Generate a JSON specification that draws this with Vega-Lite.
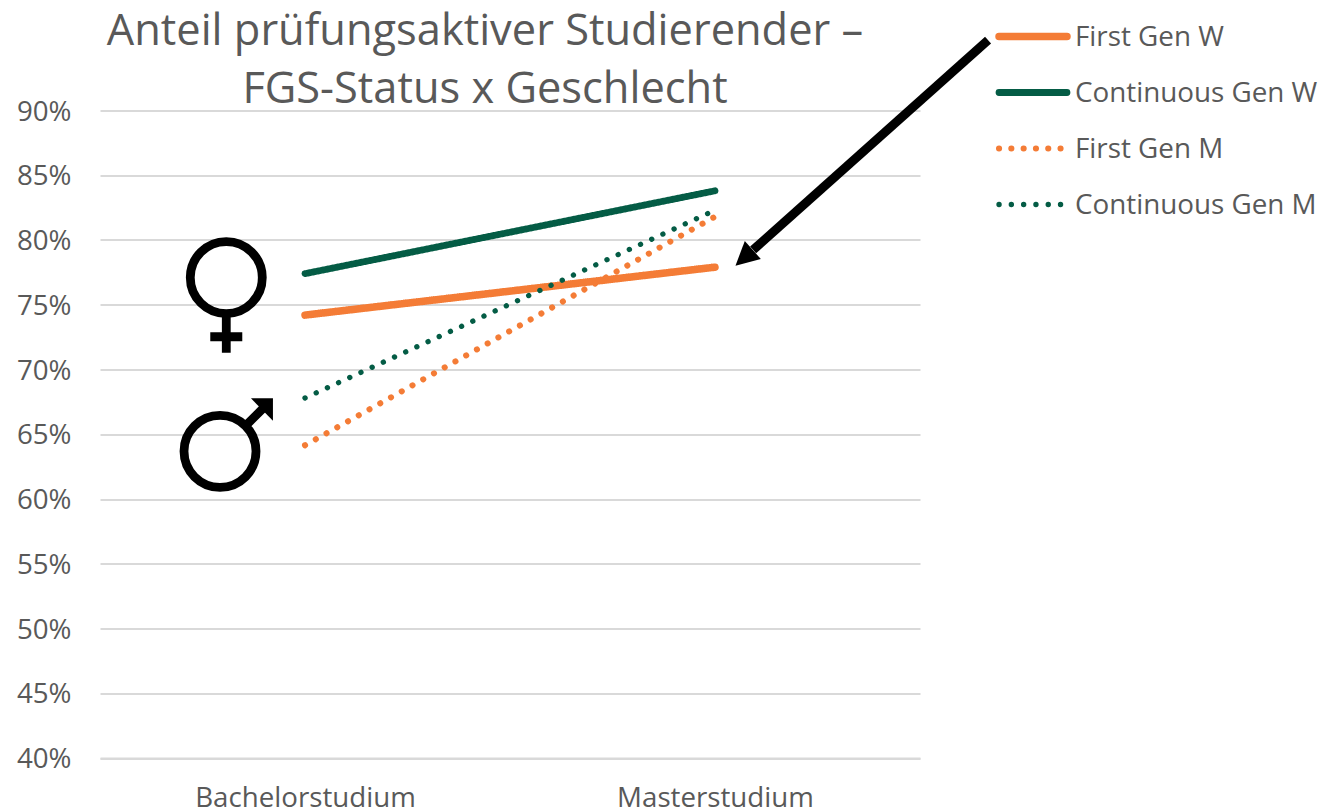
{
"$schema":"https://vega.github.io/schema/vega-lite/v6.json",
"width":820,"height":647.5,
"autosize":{"type":"none"},
"padding":{"left":100,"top":110.5,"right":402,"bottom":53},
"background":"white",
"title":{"text":["Anteil prüfungsaktiver Studierender –","FGS-Status x Geschlecht"],"font":"Open Sans","fontSize":43.4,"fontWeight":"normal","color":"#595959","anchor":"middle","frame":"group","dx":-25,"offset":-103.5,"lineHeight":58},
"config":{"view":{"stroke":null},"font":"Open Sans"},
"datasets":{
"lines":[
{"stufe":0.5,"series":"First Gen W","anteil":0.742},
{"stufe":1.5,"series":"First Gen W","anteil":0.779},
{"stufe":0.5,"series":"Continuous Gen W","anteil":0.774},
{"stufe":1.5,"series":"Continuous Gen W","anteil":0.838},
{"stufe":0.5,"series":"First Gen M","anteil":0.6415},
{"stufe":1.5,"series":"First Gen M","anteil":0.818},
{"stufe":0.5,"series":"Continuous Gen M","anteil":0.678},
{"stufe":1.5,"series":"Continuous Gen M","anteil":0.823}
],
"notes":[
{"name":"arrow","x":2.166,"y":0.9544,"x2":1.593,"y2":0.7923},
{"name":"arrowhead","x":1.58,"y":0.79},
{"name":"female","x":0.308,"y":0.7575},
{"name":"male","x":0.2927,"y":0.6368},
{"name":"malehead","x":0.395,"y":0.6691}
]
},
"layer":[
{"data":{"name":"lines"},
"mark":{"type":"line","strokeCap":"round"},
"encoding":{
"x":{"field":"stufe","type":"quantitative","scale":{"domain":[0,2]},"axis":{"values":[0.5,1.5],"title":null,"grid":false,"ticks":false,"domainColor":"#d9d9d9","domainWidth":2.2,"labelFont":"Open Sans","labelFontSize":27.7,"labelLimit":400,"labelColor":"#595959","labelPadding":26,"labelExpr":"datum.value==0.5?'Bachelorstudium':'Masterstudium'"}},
"y":{"field":"anteil","type":"quantitative","scale":{"domain":[0.4,0.9]},"axis":{"values":[0.4,0.45,0.5,0.55,0.6,0.65,0.7,0.75,0.8,0.85,0.9],"format":".0%","title":null,"domain":false,"ticks":false,"gridColor":"#d9d9d9","gridWidth":2.2,"labelFont":"Open Sans","labelFontSize":27.7,"labelColor":"#595959","labelPadding":29,"labelOffset":1.5}},
"color":{"field":"series","type":"nominal","scale":{"domain":["First Gen W","Continuous Gen W","First Gen M","Continuous Gen M"],"range":["#f47c36","#045c45","#f47c36","#045c45"]},
"legend":{"title":null,"orient":"none","legendX":895,"legendY":-102,"symbolType":"stroke","symbolSize":4624,"clipHeight":56,"rowPadding":0,"labelFont":"Open Sans","labelFontSize":27.8,"labelColor":"#595959","labelOffset":4,"labelLimit":400,"symbolOffset":0,"encoding":{"symbols":{"strokeCap":{"value":"round"}},"labels":{"dy":{"value":1}}}}},
"strokeDash":{"field":"series","type":"nominal","scale":{"domain":["First Gen W","Continuous Gen W","First Gen M","Continuous Gen M"],"range":[[1,0],[1,0],[0.1,12.2],[0.1,12.2]]}},
"strokeWidth":{"field":"series","type":"nominal","scale":{"domain":["First Gen W","Continuous Gen W","First Gen M","Continuous Gen M"],"range":[7.5,5.3,5.5,5.5]}}
}},
{"data":{"name":"notes"},"transform":[{"filter":"datum.name=='arrow'"}],
"mark":{"type":"rule","color":"black","strokeWidth":9},
"encoding":{"x":{"field":"x","type":"quantitative"},"y":{"field":"y","type":"quantitative"},"x2":{"field":"x2"},"y2":{"field":"y2"}}},
{"data":{"name":"notes"},"transform":[{"filter":"datum.name=='arrowhead'"}],
"mark":{"type":"point","filled":true,"color":"black","opacity":1,"size":40000,"shape":"M -0.123 0.127 L -0.03 -0.12 L 0.13 0.06 Z"},
"encoding":{"x":{"field":"x","type":"quantitative"},"y":{"field":"y","type":"quantitative"}}},
{"data":{"name":"notes"},"transform":[{"filter":"datum.name=='female'"}],
"mark":{"type":"point","filled":false,"stroke":"black","strokeWidth":8.8,"opacity":1,"size":40000,"shape":"M -0.36 -0.175 A 0.36 0.36 0 1 0 0.36 -0.175 A 0.36 0.36 0 1 0 -0.36 -0.175 M 0 0.185 L 0 0.577 M -0.16 0.417 L 0.16 0.417"},
"encoding":{"x":{"field":"x","type":"quantitative"},"y":{"field":"y","type":"quantitative"}}},
{"data":{"name":"notes"},"transform":[{"filter":"datum.name=='male'"}],
"mark":{"type":"point","filled":false,"stroke":"black","strokeWidth":8.8,"opacity":1,"size":40000,"shape":"M -0.36 0 A 0.36 0.36 0 1 0 0.36 0 A 0.36 0.36 0 1 0 -0.36 0 M 0.255 -0.255 L 0.43 -0.43"},
"encoding":{"x":{"field":"x","type":"quantitative"},"y":{"field":"y","type":"quantitative"}}},
{"data":{"name":"notes"},"transform":[{"filter":"datum.name=='malehead'"}],
"mark":{"type":"point","filled":true,"color":"black","opacity":1,"size":40000,"shape":"M -0.11 -0.112 L 0.11 -0.112 L 0.11 0.112 Z"},
"encoding":{"x":{"field":"x","type":"quantitative"},"y":{"field":"y","type":"quantitative"}}}
]
}
